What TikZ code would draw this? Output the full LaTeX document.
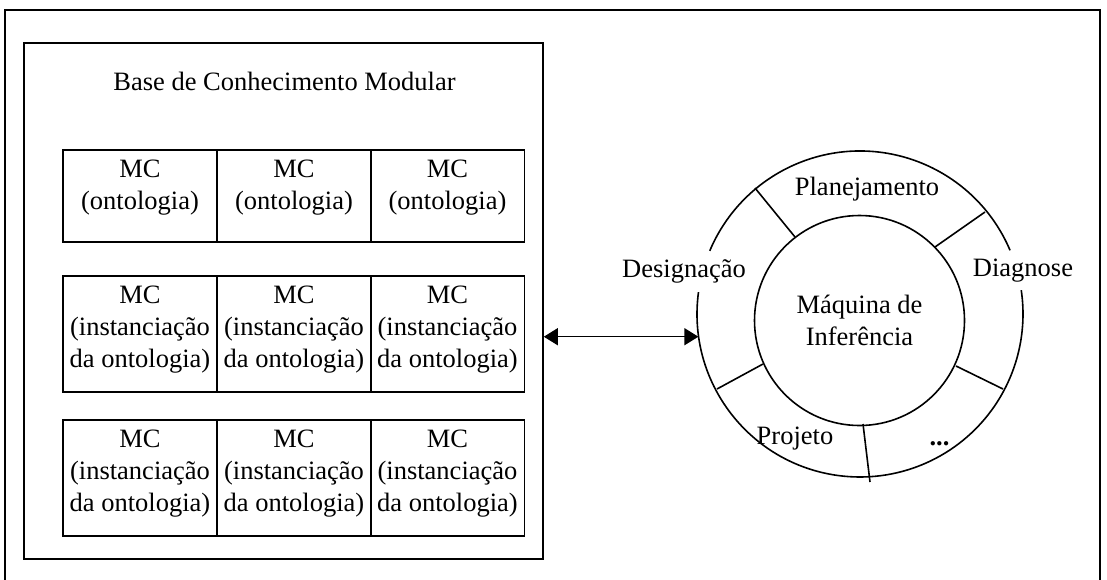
\documentclass[tikz,border=0pt]{standalone}
\usepackage{fontspec}
\setmainfont{Liberation Serif}
\usetikzlibrary{arrows.meta}
\begin{document}
\begin{tikzpicture}[x=1pt,y=-1pt,
  every node/.style={font=\fontsize{26.5}{32}\selectfont},
  ln/.style={line width=1.6pt},
  cell/.style={draw, ln, rectangle, minimum width=154pt, inner sep=0pt},
  celltext/.style={anchor=north, align=center, inner sep=0pt},
  lbl/.style={anchor=base, inner sep=0pt},
  arr/.style={line width=1.3pt, {Triangle[length=14pt,width=17pt]}-{Triangle[length=14pt,width=17pt]}}
]
\useasboundingbox (0,0) rectangle (1107,579);
% outer frame (bottom edge runs off the picture)
\draw[line width=1.8pt] (5,581) -- (5,10) -- (1100,10) -- (1100,581);
% knowledge base box
\node[draw, ln, rectangle, minimum width=519pt, minimum height=516pt, inner sep=0pt] (kb) at (283.5,301) {};
\node[lbl] (title) at (284.5,90) {Base de Conhecimento Modular};
% row 1
\foreach \c/\x in {1/140,2/294,3/447.5}{
  \node[cell, minimum height=92pt] (r1c\c) at (\x,196) {};
  \node[celltext] (t1c\c) at ([yshift=-11pt]r1c\c.north) {MC\\(ontologia)};
}
% rows 2 and 3
\foreach \r/\y in {2/334,3/478}{
  \foreach \c/\x in {1/140,2/294,3/447.5}{
    \node[cell, minimum height=116pt] (r\r c\c) at (\x,\y) {};
    \node[celltext] (t\r c\c) at ([yshift=-11pt]r\r c\c.north) {MC\\(instanciação\\da ontologia)};
  }
}
% inference machine
\node[circle, draw, ln, minimum size=210pt, inner sep=0pt, align=center] (core) at (859.5,320.5) {Máquina de\\Inferência};
\node[circle, minimum size=326pt, inner sep=0pt] (ring) at (860,314) {};
\draw[ln] ([shift={(-23:163)}]860,314) arc[start angle=-23, end angle=-157.2, radius=163];
\draw[ln] ([shift={(-172.3:163)}]860,314) arc[start angle=-172.3, end angle=-368.4, radius=163];
% spokes
\draw[ln] (755,188) -- (795,237);
\draw[ln] (985,212) -- (935,247);
\draw[ln] (717,389) -- (763,364);
\draw[ln] (1003,389) -- (956,366);
\draw[ln] (863,424) -- (870,482);
% ring labels
\node[lbl] (plan) at (867,195) {Planejamento};
\node[lbl] (desig) at (684,277) {Designação};
\node[lbl] (diag) at (1023,276) {Diagnose};
\node[lbl] (proj) at (795,444) {Projeto};
\node[lbl] (etc) at (939.5,445) {\bfseries ...};
% connector
\draw[arr] (kb.east |- ring.188.4) -- (ring.188.4);
\end{tikzpicture}
\end{document}
